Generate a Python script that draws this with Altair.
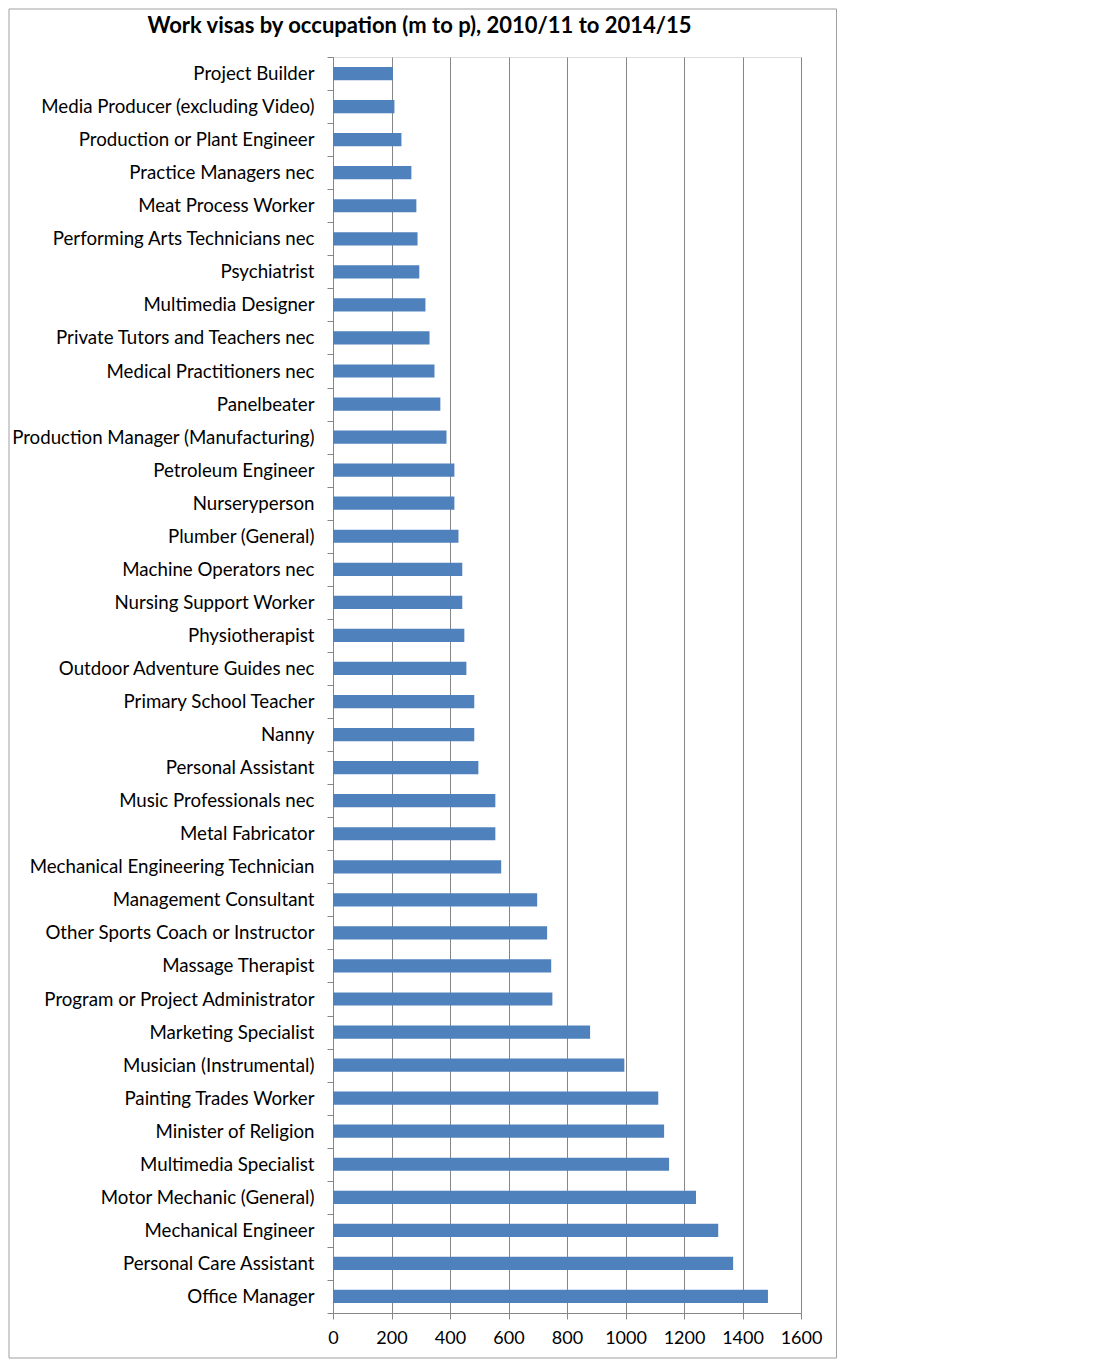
import altair as alt
import pandas as pd

occupations = [
    "Project Builder",
    "Media Producer (excluding Video)",
    "Production or Plant Engineer",
    "Practice Managers nec",
    "Meat Process Worker",
    "Performing Arts Technicians nec",
    "Psychiatrist",
    "Multimedia Designer",
    "Private Tutors and Teachers nec",
    "Medical Practitioners nec",
    "Panelbeater",
    "Production Manager (Manufacturing)",
    "Petroleum Engineer",
    "Nurseryperson",
    "Plumber (General)",
    "Machine Operators nec",
    "Nursing Support Worker",
    "Physiotherapist",
    "Outdoor Adventure Guides nec",
    "Primary School Teacher",
    "Nanny",
    "Personal Assistant",
    "Music Professionals nec",
    "Metal Fabricator",
    "Mechanical Engineering Technician",
    "Management Consultant",
    "Other Sports Coach or Instructor",
    "Massage Therapist",
    "Program or Project Administrator",
    "Marketing Specialist",
    "Musician (Instrumental)",
    "Painting Trades Worker",
    "Minister of Religion",
    "Multimedia Specialist",
    "Motor Mechanic (General)",
    "Mechanical Engineer",
    "Personal Care Assistant",
    "Office Manager",
]

visas = [
    205, 210, 234, 268, 285, 289, 295, 316, 330, 347,
    367, 388, 415, 415, 429, 442, 442, 449, 456, 483,
    483, 497, 555, 555, 575, 698, 732, 746, 750, 879,
    996, 1112, 1132, 1149, 1241, 1317, 1368, 1487,
]

x_ticks = [0, 200, 400, 600, 800, 1000, 1200, 1400, 1600]
title_text = "Work visas by occupation (m to p), 2010/11 to 2014/15"

df = pd.DataFrame({"occupation": occupations, "visas": visas})

GRAY = "#868686"
FONT = "Lato"

bars = alt.Chart(df).mark_bar(color="#4F81BD", height={"band": 0.4}).encode(
    x=alt.X(
        "visas:Q",
        scale=alt.Scale(domain=[0, 1600], nice=False),
        axis=alt.Axis(
            values=x_ticks, title=None, grid=True, gridColor=GRAY, gridWidth=1,
            domainColor=GRAY, tickColor=GRAY, tickSize=6, labelFontSize=18,
            labelPadding=10, labelColor="black", labelFont=FONT, format="d",
            labelFlush=False,
        ),
    ),
    y=alt.Y(
        "occupation:N",
        sort=occupations,
        scale=alt.Scale(paddingInner=0, paddingOuter=0),
        axis=alt.Axis(
            title=None, tickBand="extent", domainColor=GRAY, tickColor=GRAY,
            tickSize=6, labelFontSize=18.7, labelPadding=13, labelColor="black",
            labelFont=FONT, labelLimit=400,
        ),
    ),
    tooltip=["occupation", "visas"],
)

border = alt.Chart(pd.DataFrame({"k": [0]})).mark_rect(
    filled=False, stroke="#A0A0A0", strokeWidth=1
).encode(
    x=alt.value(-324), x2=alt.value(503.5), y=alt.value(-48), y2=alt.value(1301)
)

title = alt.Chart(pd.DataFrame({"t": [title_text]})).mark_text(
    font=FONT, fontSize=22, fontWeight="bold", align="center",
    baseline="middle", color="black",
).encode(text="t:N", x=alt.value(86.5), y=alt.value(-31))

chart = alt.layer(bars, border, title).properties(
    width=468, height=1256, padding=0
).configure_view(strokeWidth=0).configure(background="white")

chart.save("out.html", embed_options={"renderer": "svg", "actions": False})
